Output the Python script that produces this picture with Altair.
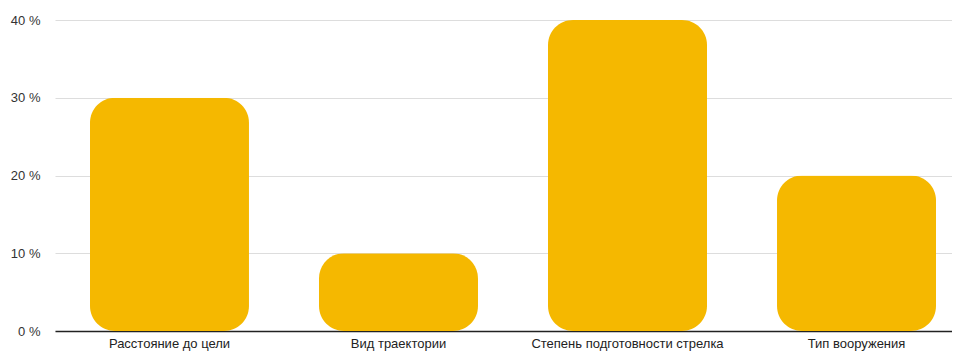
import altair as alt
import pandas as pd

categories = ["Расстояние до цели", "Вид траектории", "Степень подготовности стрелка", "Тип вооружения"]
values = [30, 10, 40, 20]
y_ticks = [0, 10, 20, 30, 40]

df = pd.DataFrame({"cat": categories, "val": values})

chart = alt.Chart(df).mark_bar(
    color="#F5B800", cornerRadius=25
).encode(
    x=alt.X("cat:N", sort=categories, title=None,
            scale=alt.Scale(range=[0, 916], paddingInner=0.3057, paddingOuter=0.1528),
            axis=alt.Axis(labelAngle=0, labelFont="Liberation Sans", labelFontSize=13,
                          labelColor="#222", labelPadding=6, ticks=False, labelLimit=0,
                          domainColor="#222", domainWidth=1.5, grid=False)),
    y=alt.Y("val:Q", title=None,
            scale=alt.Scale(domain=[0, 40], nice=False),
            axis=alt.Axis(values=y_ticks, labelExpr="datum.value + ' %'",
                          labelFont="Liberation Sans", labelFontSize=13, labelColor="#333",
                          labelPadding=15, ticks=False, domain=False,
                          gridColor="#dddddd", gridWidth=1)),
).properties(
    width=897, height=311,
    autosize=alt.AutoSizeParams(type="none"),
    padding={"left": 47, "top": 12, "right": 0, "bottom": 20},
    background="white",
).configure_view(strokeWidth=0, stroke=None)

chart.save("out.html", embed_options={"renderer": "svg", "actions": False})
